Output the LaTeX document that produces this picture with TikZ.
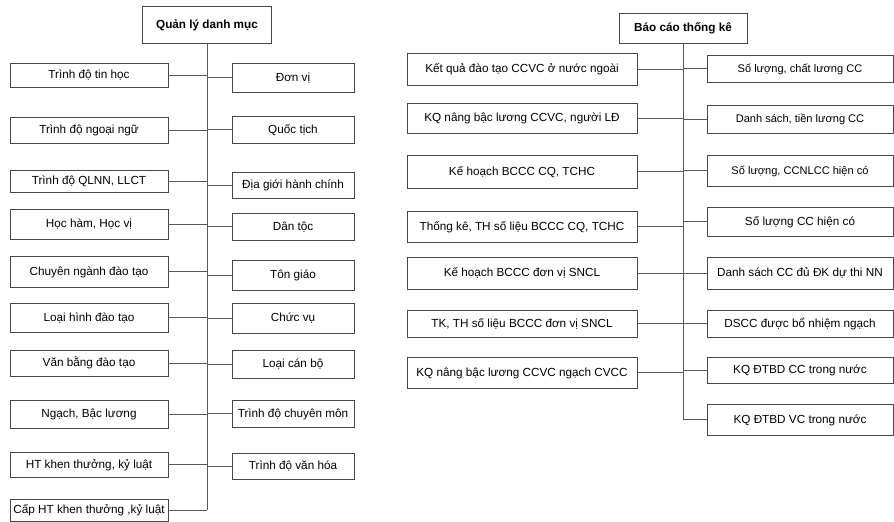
\documentclass[tikz,border=0pt]{standalone}
\usepackage{fontspec}
\setmainfont{Liberation Sans}
\begin{document}
\begin{tikzpicture}[x=0.75pt,y=-0.75pt,
  box/.style 2 args={draw=black!72, line width=0.65pt, fill=white, inner sep=0pt,
    text height=6.4pt, text depth=0.6pt,
    minimum width=#1*0.75pt, minimum height=#2*0.75pt, font=\fontsize{8.8}{10}\selectfont},
  rootbox/.style 2 args={box={#1}{#2}, font=\fontsize{8.8}{10}\selectfont\bfseries},
  smalltext/.style={font=\fontsize{8.3}{10}\selectfont},
  link/.style={draw=black!65, line width=0.65pt}]
\useasboundingbox (0,0) rectangle (894,522);
\fill[white] (0,0) rectangle (894,522);
% ---------- Left tree ----------
\node[rootbox={129}{37}] (lr) at (207,24.5) {Quản lý danh mục};
\node[box={158}{24}] (l1) at (89,75) {Trình độ tin học};
\node[box={158}{26}] (l2) at (89,130) {Trình độ ngoại ngữ};
\node[box={158}{22}] (l3) at (89,181) {Trình độ QLNN, LLCT};
\node[box={158}{30}] (l4) at (89,224) {Học hàm, Học vị};
\node[box={158}{31}] (l5) at (89,271.5) {Chuyên ngành đào tạo};
\node[box={158}{29}] (l6) at (89,317.5) {Loại hình đào tạo};
\node[box={158}{26}] (l7) at (89,363) {Văn bằng đào tạo};
\node[box={158}{28}] (l8) at (89,414) {Ngạch, Bậc lương};
\node[box={158}{25}] (l9) at (89,464.5) {HT khen thưởng, kỷ luật};
\node[box={158}{22}] (l10) at (89,510) {Cấp HT khen thưởng ,kỷ luật};
\node[box={122}{29}] (m1) at (293,77.5) {Đơn vị};
\node[box={122}{27}] (m2) at (293,129.5) {Quốc tịch};
\node[box={122}{26}] (m3) at (293,185) {Địa giới hành chính};
\node[box={122}{27}] (m4) at (293,226.5) {Dân tộc};
\node[box={122}{30}] (m5) at (293,275) {Tôn giáo};
\node[box={122}{30}] (m6) at (293,318) {Chức vụ};
\node[box={122}{28}] (m7) at (293,364) {Loại cán bộ};
\node[box={122}{27}] (m8) at (293,413.5) {Trình độ chuyên môn};
\node[box={122}{26}] (m9) at (293,466) {Trình độ văn hóa};
\path[link] (lr.south) -- (lr.south |- l10.east);
\foreach \n in {l1,l2,l3,l4,l5,l6,l7,l8,l9,l10}
  \path[link] (\n.east) -- (\n.east -| lr.south);
\foreach \n in {m1,m2,m3,m4,m5,m6,m7,m8,m9}
  \path[link] (\n.west) -- (\n.west -| lr.south);
% ---------- Right tree ----------
\node[rootbox={128}{30}] (rr) at (683,28) {Báo cáo thống kê};
\node[box={230}{32}] (a1) at (522,69) {Kết quả đào tạo CCVC ở nước ngoài};
\node[box={230}{30}] (a2) at (522,118) {KQ nâng bậc lương CCVC, người LĐ};
\node[box={230}{33}] (a3) at (522,171.5) {Kế hoạch BCCC CQ, TCHC};
\node[box={230}{31}] (a4) at (522,226.5) {Thống kê, TH số liệu BCCC CQ, TCHC};
\node[box={230}{32}] (a5) at (522,273) {Kế hoạch BCCC đơn vị SNCL};
\node[box={230}{27}] (a6) at (522,323.5) {TK, TH số liệu BCCC đơn vị SNCL};
\node[box={230}{31}] (a7) at (522,372.5) {KQ nâng bậc lương CCVC ngạch CVCC};
\node[box={186}{27}, smalltext] (b1) at (800,68.5) {Số lượng, chất lương CC};
\node[box={186}{28}, smalltext] (b2) at (800,119) {Danh sách, tiền lương CC};
\node[box={186}{31}, smalltext] (b3) at (800,170.5) {Số lượng, CCNLCC hiện có};
\node[box={186}{29}] (b4) at (800,221.5) {Số lượng CC hiện có};
\node[box={186}{32}] (b5) at (800,273) {Danh sách CC đủ ĐK dự thi NN};
\node[box={186}{27}] (b6) at (800,323.5) {DSCC được bổ nhiệm ngạch};
\node[box={186}{26}] (b7) at (800,370) {KQ ĐTBD CC trong nước};
\node[box={186}{31}] (b8) at (800,419.5) {KQ ĐTBD VC trong nước};
\path[link] (rr.south) -- (rr.south |- b8.west);
\foreach \n in {a1,a2,a3,a4,a5,a6,a7}
  \path[link] (\n.east) -- (\n.east -| rr.south);
\foreach \n in {b1,b2,b3,b4,b5,b6,b7,b8}
  \path[link] (\n.west) -- (\n.west -| rr.south);
\end{tikzpicture}
\end{document}
